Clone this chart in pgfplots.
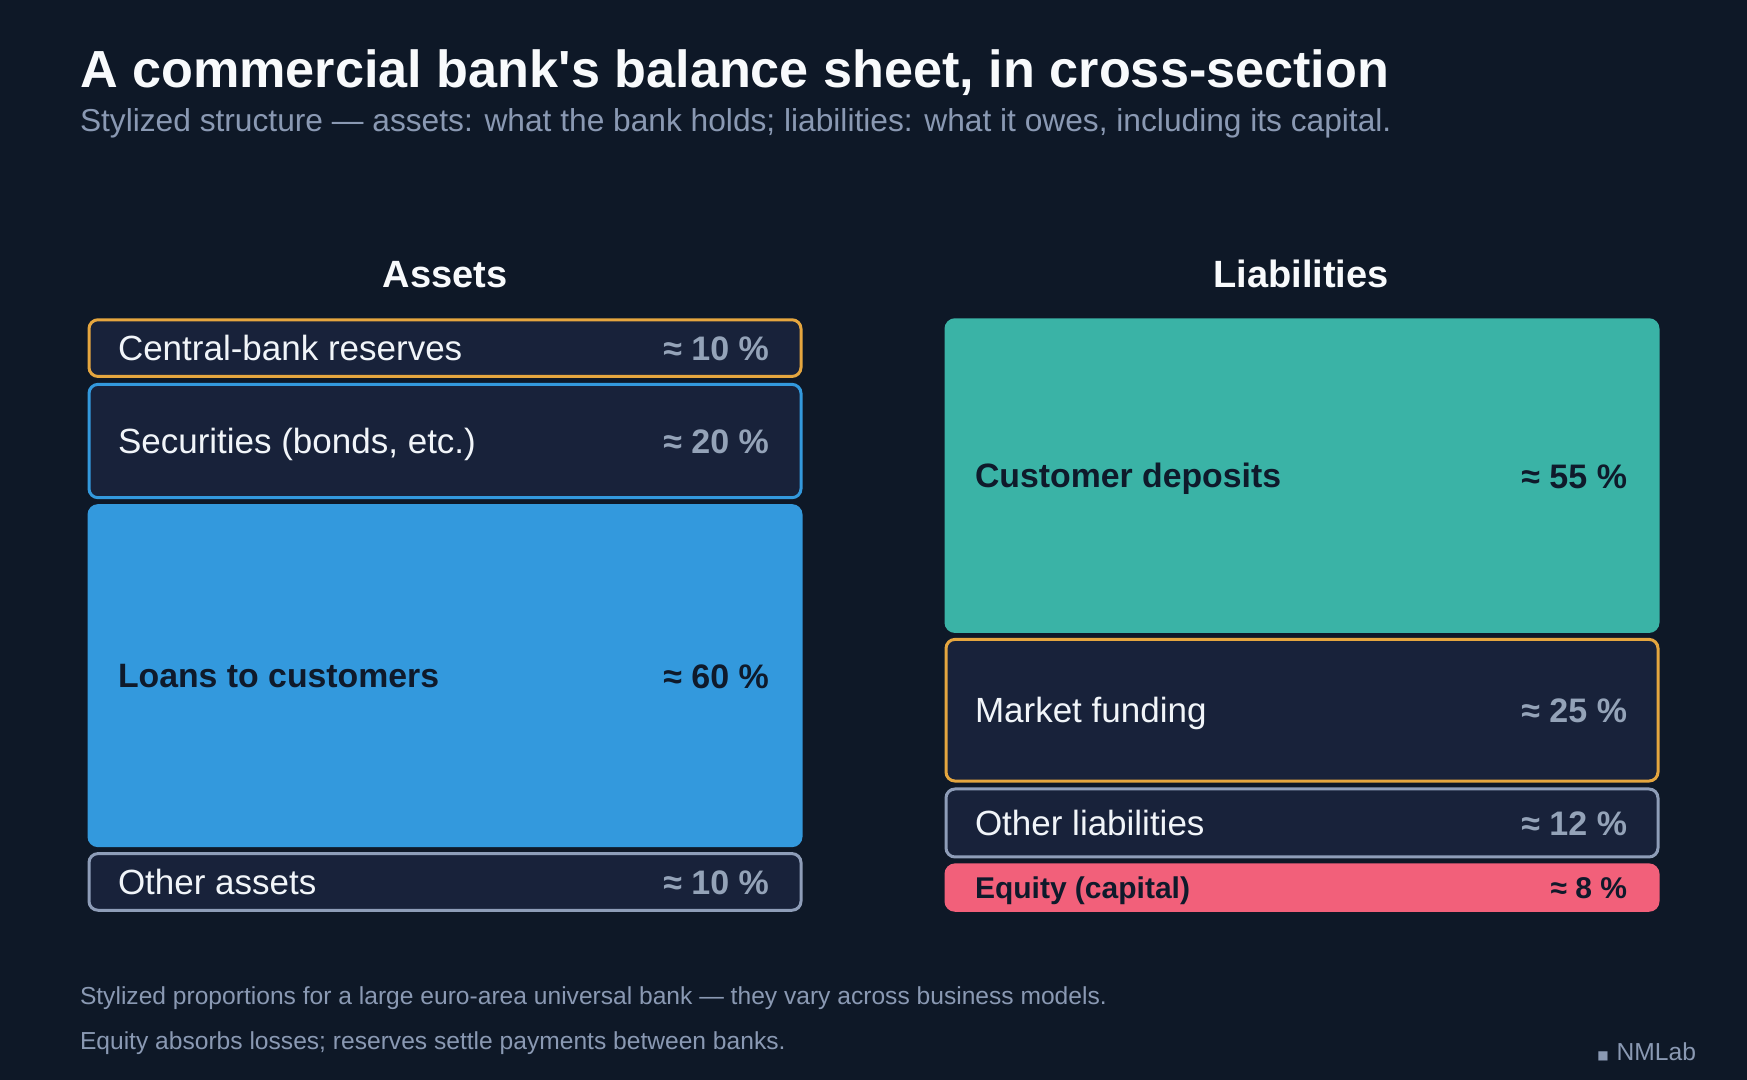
\documentclass[border=0pt]{standalone}
\usepackage{pgfplots}
\pgfplotsset{compat=1.18}
\usepackage{fontspec}
\setmainfont{Liberation Sans}
\newfontfamily\symfont{DejaVu Sans}
\definecolor{bg}{HTML}{0E1827}
\definecolor{boxdark}{HTML}{18223A}
\definecolor{gold}{HTML}{E5A63F}
\definecolor{bblue}{HTML}{3399DD}
\definecolor{slate}{HTML}{8E9DB8}
\definecolor{teal}{HTML}{3AB3A6}
\definecolor{rose}{HTML}{F2607A}
\definecolor{ink}{HTML}{0F1A2B}
\definecolor{titlec}{HTML}{F8FAFC}
\definecolor{labelc}{HTML}{F1F5F9}
\definecolor{pctc}{HTML}{94A3B8}
\definecolor{subc}{HTML}{8A99B3}
\tikzset{
  every node/.append style={inner sep=0pt, outer sep=0pt},
  lbl/.style={anchor=base west, yshift=-6.3pt, font=\fontsize{17.5}{20}\selectfont},
  blbl/.style={anchor=base west, yshift=-6.1pt, font=\fontsize{16.9}{20}\selectfont\bfseries},
  pct/.style={anchor=base east, yshift=-6.2pt, font=\fontsize{17}{20}\selectfont\bfseries},
  box/.style={line width=1.5pt, rounded corners=4.5pt, mark=none},
}
\begin{document}
\begin{tikzpicture}
\fill[bg] (0,0) rectangle (873.5pt,540pt);
\begin{axis}[at={(0,0)}, anchor=south west, scale only axis,
  width=873.5pt, height=540pt,
  xmin=0, xmax=1747, ymin=-29.95, ymax=160.63,
  hide axis, clip=false]
% ---------- Assets (stacked from bottom, gap 1.4) ----------
% Other assets 10 %
\addplot[box, fill=boxdark, draw=slate] coordinates {(89,0) (801,0) (801,10) (89,10)} -- cycle;
% Loans to customers 60 %
\addplot[box, fill=bblue, draw=bblue] coordinates {(89,11.4) (801,11.4) (801,71.4) (89,71.4)} -- cycle;
% Securities 20 %
\addplot[box, fill=boxdark, draw=bblue] coordinates {(89,72.8) (801,72.8) (801,92.8) (89,92.8)} -- cycle;
% Central-bank reserves 10 %
\addplot[box, fill=boxdark, draw=gold] coordinates {(89,94.2) (801,94.2) (801,104.2) (89,104.2)} -- cycle;
% ---------- Liabilities ----------
% Equity 8 %
\addplot[box, fill=rose, draw=rose] coordinates {(946,0) (1658,0) (1658,8) (946,8)} -- cycle;
% Other liabilities 12 %
\addplot[box, fill=boxdark, draw=slate] coordinates {(946,9.4) (1658,9.4) (1658,21.4) (946,21.4)} -- cycle;
% Market funding 25 %
\addplot[box, fill=boxdark, draw=gold] coordinates {(946,22.8) (1658,22.8) (1658,47.8) (946,47.8)} -- cycle;
% Customer deposits 55 %
\addplot[box, fill=teal, draw=teal] coordinates {(946,49.2) (1658,49.2) (1658,104.2) (946,104.2)} -- cycle;

% labels
\node[lbl, text=labelc] at (axis cs:118,99.2) {Central-bank reserves};
\node[pct, text=pctc] at (axis cs:769,99.2) {≈ 10 \%};
\node[lbl, text=labelc] at (axis cs:118,82.8) {Securities (bonds, etc.)};
\node[pct, text=pctc] at (axis cs:769,82.8) {≈ 20 \%};
\node[blbl, text=ink] at (axis cs:118,41.4) {Loans to customers};
\node[pct, text=ink] at (axis cs:769,41.4) {≈ 60 \%};
\node[lbl, text=labelc] at (axis cs:118,5) {Other assets};
\node[pct, text=pctc] at (axis cs:769,5) {≈ 10 \%};

\node[blbl, text=ink] at (axis cs:975,76.7) {Customer deposits};
\node[pct, text=ink] at (axis cs:1627,76.7) {≈ 55 \%};
\node[lbl, text=labelc] at (axis cs:975,35.3) {Market funding};
\node[pct, text=pctc] at (axis cs:1627,35.3) {≈ 25 \%};
\node[lbl, text=labelc] at (axis cs:975,15.4) {Other liabilities};
\node[pct, text=pctc] at (axis cs:1627,15.4) {≈ 12 \%};
\node[anchor=base west, yshift=-5.3pt, text=ink, font=\fontsize{15}{18}\selectfont\bfseries] at (axis cs:975,4) {Equity (capital)};
\node[anchor=base east, yshift=-5.3pt, text=ink, font=\fontsize{15}{18}\selectfont\bfseries] at (axis cs:1627,4) {≈ 8 \%};
\end{axis}
\begin{scope}[shift={(0,540pt)}, x=0.5pt, y=-0.5pt]
\node[anchor=base west, text=titlec, font=\fontsize{26.1}{30}\selectfont\bfseries] at (80,88) {A commercial bank\textquotesingle s balance sheet, in cross-section};
\node[anchor=base west, text=subc, font=\fontsize{15.85}{18}\selectfont] at (80,132) {Stylized structure — assets: what the bank holds; liabilities: what it owes, including its capital.};
\node[anchor=base, text=titlec, font=\fontsize{19}{22}\selectfont\bfseries] at (445,287.5) {Assets};
\node[anchor=base, text=titlec, font=\fontsize{19}{22}\selectfont\bfseries] at (1301,287.5) {Liabilities};
\node[anchor=base west, text=subc, font=\fontsize{12.3}{14}\selectfont] at (80,1005) {Stylized proportions for a large euro-area universal bank — they vary across business models.};
\node[anchor=base west, text=subc, font=\fontsize{12.3}{14}\selectfont] at (80,1050) {Equity absorbs losses; reserves settle payments between banks.};
\node[anchor=base east, text=subc, font=\fontsize{12.3}{14}\selectfont] at (1696,1061) {{\symfont\fontsize{6}{8}\selectfont\raisebox{0.6pt}{■}}\hspace{4pt}NMLab};
\end{scope}
\end{tikzpicture}
\end{document}
